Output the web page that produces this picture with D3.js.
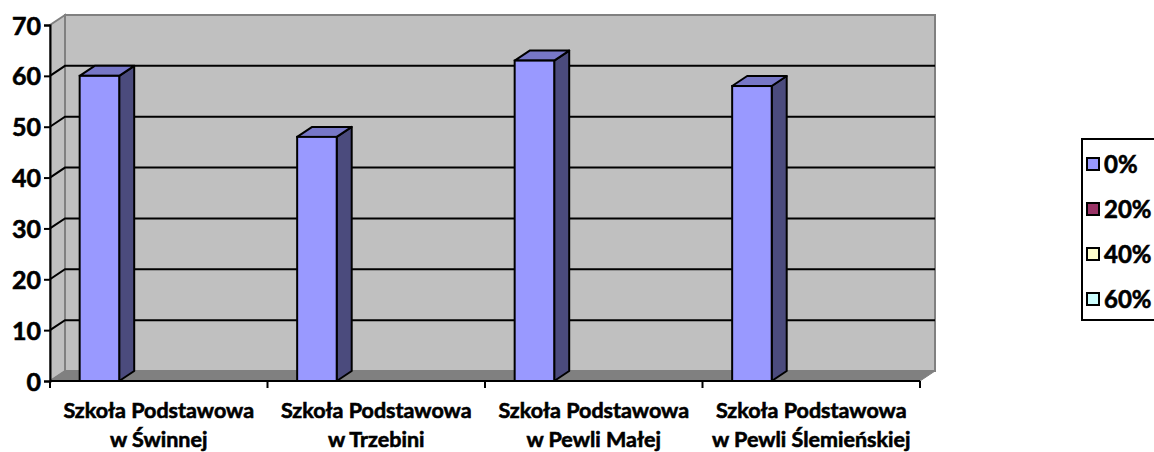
<!DOCTYPE html>
<html>
<head>
<meta charset="utf-8">
<script src="https://cdn.jsdelivr.net/npm/d3@7"></script>
<style>
  body { margin: 0; background: #fff; }
  text { font-family: Lato, "Open Sans", sans-serif; font-weight: bold; fill: #000; stroke: #000; stroke-width: 0.6px; }
</style>
</head>
<body>
<svg id="chart"></svg>
<script>
const width = 1154;
const height = 452;

// data
const schools = ['Szkoła Podstawowa|w Świnnej', 'Szkoła Podstawowa|w Trzebini',
                 'Szkoła Podstawowa|w Pewli Małej', 'Szkoła Podstawowa|w Pewli Ślemieńskiej'];
const seriesNames = ['0%', '20%', '40%', '60%'];
const seriesColors = ['#9999FF', '#993366', '#FFFFCC', '#CCFFFF'];
const values0 = [60, 48, 63, 58];
const values20 = [0, 0, 0, 0];
const values40 = [0, 0, 0, 0];
const values60 = [0, 0, 0, 0];
const yTicks = [0, 10, 20, 30, 40, 50, 60, 70];

const allSeries = [values0, values20, values40, values60];

const plotLeft = 50, plotRight = 920, plotBottom = 381, plotTop = 25;
const dx = 15, dy = -10;

const svg = d3.select('#chart').attr('width', width).attr('height', height);

const x = d3.scaleBand().domain(schools).range([plotLeft, plotRight]);
const xs = d3.scaleBand().domain(seriesNames).range([0, x.bandwidth()]).paddingOuter(0.75);
const y = d3.scaleLinear().domain([0, 70]).range([plotBottom, plotTop]);

const pts = p => p.map(d => d.join(',')).join(' ');

// side wall
svg.append('polygon')
  .attr('points', pts([[plotLeft, y(0)], [plotLeft, y(70)], [plotLeft + dx, y(70) + dy], [plotLeft + dx, y(0) + dy]]))
  .attr('fill', '#C0C0C0').attr('stroke', '#808080').attr('stroke-width', 2);

// back wall
svg.append('polygon')
  .attr('points', pts([[plotLeft + dx, y(70) + dy], [plotRight + dx, y(70) + dy], [plotRight + dx, y(0) + dy], [plotLeft + dx, y(0) + dy]]))
  .attr('fill', '#C0C0C0').attr('stroke', '#808080').attr('stroke-width', 2);

// floor
svg.append('polygon')
  .attr('points', pts([[plotLeft, y(0)], [plotLeft + dx, y(0) + dy], [plotRight + dx, y(0) + dy], [plotRight, y(0)]]))
  .attr('fill', '#808080').attr('stroke', '#808080').attr('stroke-width', 1);

// gridlines
const grid = svg.append('g');
yTicks.filter(t => t > 0 && t < 70).forEach(t => {
  grid.append('polyline')
    .attr('points', pts([[plotLeft, y(t)], [plotLeft + dx, y(t) + dy], [plotRight + dx, y(t) + dy]]))
    .attr('fill', 'none').attr('stroke', '#000').attr('stroke-width', 2);
});

// bars
const bars = svg.append('g');
allSeries.forEach((vals, si) => {
  vals.forEach((v, ci) => {
    if (!v) return;
    const x0 = x(schools[ci]) + xs(seriesNames[si]);
    const x1 = x0 + xs.bandwidth();
    const yt = y(v), yb = y(0);
    const c = d3.color(seriesColors[si]);
    bars.append('polygon')
      .attr('points', pts([[x1, yb], [x1, yt], [x1 + dx, yt + dy], [x1 + dx, yb + dy]]))
      .attr('fill', c.darker(2)).attr('stroke', '#000').attr('stroke-width', 2).attr('stroke-linejoin', 'round');
    bars.append('polygon')
      .attr('points', pts([[x0, yt], [x0 + dx, yt + dy], [x1 + dx, yt + dy], [x1, yt]]))
      .attr('fill', c.darker(0.7)).attr('stroke', '#000').attr('stroke-width', 2).attr('stroke-linejoin', 'round');
    bars.append('rect')
      .attr('x', x0).attr('y', yt).attr('width', x1 - x0).attr('height', yb - yt)
      .attr('fill', c).attr('stroke', '#000').attr('stroke-width', 2);
  });
});

// y axis
const yAxis = svg.append('g').attr('transform', `translate(${plotLeft},0)`)
  .call(d3.axisLeft(y).tickValues(yTicks).tickSize(6).tickPadding(3));
yAxis.select('.domain').attr('stroke', '#000').attr('stroke-width', 2);
yAxis.selectAll('.tick line').attr('stroke', '#000').attr('stroke-width', 2);
yAxis.selectAll('.tick text').style('font-size', '25px').attr('dy', '0.36em');

// x axis
svg.append('line').attr('x1', plotLeft).attr('x2', plotRight).attr('y1', plotBottom).attr('y2', plotBottom)
  .attr('stroke', '#000').attr('stroke-width', 2);
const bounds = schools.map(s => x(s)).concat([plotRight]);
svg.append('g').selectAll('line').data(bounds).join('line')
  .attr('x1', d => d).attr('x2', d => d).attr('y1', plotBottom).attr('y2', plotBottom + 7)
  .attr('stroke', '#000').attr('stroke-width', 2);

const xl = svg.append('g').selectAll('text').data(schools).join('text')
  .attr('text-anchor', 'middle')
  .style('font-size', '21.5px');
xl.append('tspan').attr('x', d => x(d) + x.bandwidth() / 2).attr('y', 418).text(d => d.split('|')[0]);
xl.append('tspan').attr('x', d => x(d) + x.bandwidth() / 2).attr('y', 447).text(d => d.split('|')[1]);

// legend
const legend = svg.append('g');
legend.append('rect').attr('x', 1082).attr('y', 139).attr('width', 90).attr('height', 181)
  .attr('fill', '#fff').attr('stroke', '#000').attr('stroke-width', 2);
const ly = d3.scalePoint().domain(seriesNames).range([164, 299]);
seriesNames.forEach((s, i) => {
  legend.append('rect').attr('x', 1087).attr('y', ly(s) - 6).attr('width', 12).attr('height', 12)
    .attr('fill', seriesColors[i]).attr('stroke', '#000').attr('stroke-width', 2);
  legend.append('text').attr('x', 1104).attr('y', ly(s)).attr('dy', '0.36em')
    .style('font-size', '24px').text(s);
});
</script>
</body>
</html>
